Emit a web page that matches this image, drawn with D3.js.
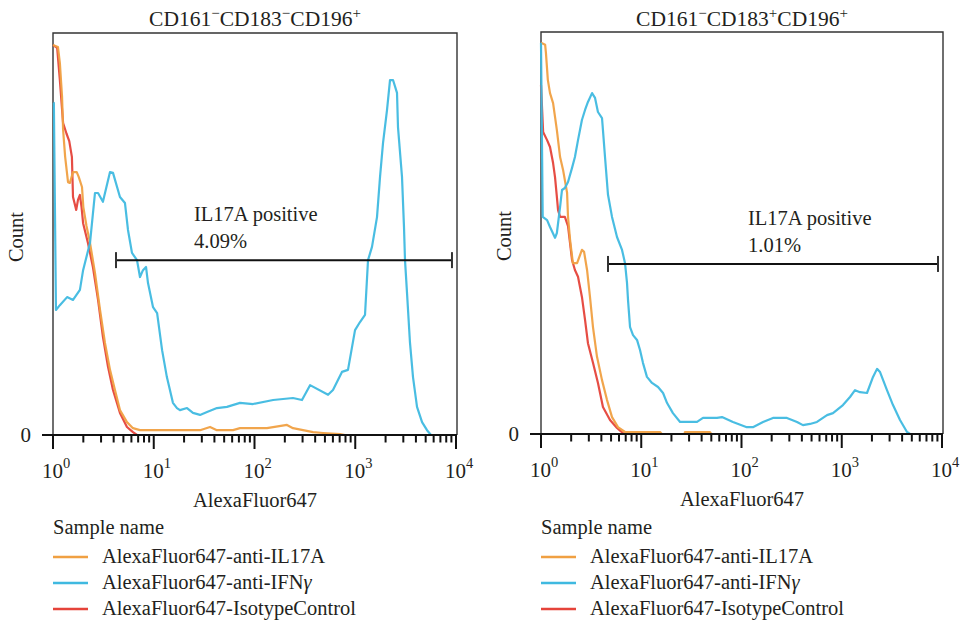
<!DOCTYPE html>
<html>
<head>
<meta charset="utf-8">
<script src="https://cdn.jsdelivr.net/npm/d3@7"></script>
<style>
  body { margin: 0; background: #fff; }
  svg { display: block; }
  text { font-family: "Liberation Serif", "Times New Roman", serif; fill: #231f20; }
</style>
</head>
<body>
<svg id="chart" width="960" height="623"></svg>
<script>
// ---- data -------------------------------------------------------------
const panelTitles = [
  [["CD161", "−"], ["CD183", "−"], ["CD196", "+"]],
  [["CD161", "−"], ["CD183", "+"], ["CD196", "+"]]
];
const xDomain = [1, 10000];
const xTickExponents = [0, 1, 2, 3, 4];
const yTickLabels = ["0"];
const xAxisLabel = "AlexaFluor647";
const yAxisLabel = "Count";
const legendTitle = "Sample name";
const seriesNames = ["AlexaFluor647-anti-IL17A", "AlexaFluor647-anti-IFN", "AlexaFluor647-IsotypeControl"];
const seriesColors = ["#f0a042", "#3fb9e0", "#e5433a"];
const gateLabel = "IL17A positive";
const gatePercents = ["4.09%", "1.01%"];
const gateRanges = [[4.22, 9120], [4.66, 9120]];
const gateLevels = [43.5, 42.3];

// [fluorescence intensity, count] — panel 1
const p1IL17A = [[1.0,97.0],[1.12,96.5],[1.17,92.5],[1.23,84.1],[1.26,75.9],[1.32,69.2],[1.41,62.9],[1.47,62.7],[1.58,65.4],[1.72,65.4],[1.8,64.2],[1.94,61.7],[2.0,56.7],[2.15,52.0],[2.33,47.8],[2.61,40.3],[2.93,31.1],[3.28,22.9],[3.68,16.2],[4.12,11.2],[4.62,6.2],[5.42,3.2],[6.22,1.7],[7.3,1.2],[18.2,1.2],[28.8,1.2],[36.2,2.0],[42.4,1.2],[61.2,1.2],[71.8,1.7],[133,1.7],[210,2.5],[241,1.7],[381,0.7],[479,0.5],[706,0.2],[790,0],[10000,0]];
const p1IFNg = [[1.01,82.6],[1.02,82.6],[1.07,31.1],[1.17,32.3],[1.38,34.3],[1.58,33.6],[1.85,36.1],[1.99,41.0],[2.33,47.8],[2.61,60.2],[2.8,60.2],[3.13,58.0],[3.68,65.4],[3.94,65.2],[4.62,59.2],[5.18,57.7],[5.55,51.0],[6.08,45.3],[6.82,43.5],[7.3,39.3],[7.82,41.0],[8.38,41.8],[8.77,37.8],[9.84,31.8],[10.8,30.3],[12.1,21.1],[13.5,14.4],[15.5,8.0],[17.0,6.7],[18.2,6.2],[21.4,6.7],[24.5,5.5],[28.8,5.0],[33.8,5.7],[42.4,6.7],[53.3,7.0],[71.8,8.0],[96.7,7.7],[153,8.7],[241,9.2],[296,8.7],[356,12.4],[537,10.0],[601,11.2],[738,15.7],[847,16.2],[995,26.1],[1115,28.1],[1250,29.9],[1339,43.5],[1466,46.8],[1644,54.2],[1762,64.2],[1886,72.6],[2066,80.8],[2213,88.3],[2371,88.3],[2597,85.1],[2656,76.6],[2911,64.2],[3047,51.7],[3118,43.5],[3265,35.3],[3495,22.9],[3743,14.4],[4103,7.0],[4603,3.2],[5155,1.2],[5651,0],[10000,0]];
const p1Isotype = [[1.0,97.0],[1.1,96.3],[1.17,88.3],[1.23,81.0],[1.26,77.6],[1.36,75.0],[1.45,73.1],[1.54,69.2],[1.58,59.2],[1.7,56.0],[1.77,58.5],[1.85,59.7],[1.92,56.7],[1.99,52.7],[2.22,47.8],[2.49,41.8],[2.8,33.6],[3.13,24.4],[3.52,16.9],[3.94,11.2],[4.62,5.5],[5.42,2.0],[6.22,0.7],[6.82,0],[10000,0]];

// [fluorescence intensity, count] — panel 2
const p2IL17A = [[1.0,97.3],[1.1,96.8],[1.12,94.8],[1.17,88.1],[1.23,84.8],[1.32,82.3],[1.44,75.6],[1.55,68.9],[1.66,65.7],[1.82,60.0],[1.86,54.0],[1.95,48.3],[2.08,42.5],[2.29,42.5],[2.56,45.8],[2.69,45.3],[2.88,40.8],[3.08,34.1],[3.3,26.6],[3.62,19.2],[4.06,13.4],[4.55,8.5],[5.11,4.2],[5.86,1.7],[6.89,0.5],[15.4,0.5],[16,0],[27,0],[27.3,0.5],[48.5,0.5],[50,0],[10000,0]];
const p2IFNg = [[1.0,97.3],[1.04,54.0],[1.15,53.2],[1.23,51.5],[1.38,48.8],[1.44,50.0],[1.55,56.5],[1.62,60.7],[1.73,61.2],[1.86,62.7],[2.04,66.2],[2.18,68.9],[2.34,73.1],[2.56,78.1],[2.75,80.6],[2.94,82.6],[3.23,84.8],[3.46,83.6],[3.7,80.1],[4.06,78.6],[4.15,75.6],[4.35,68.9],[4.66,59.5],[5.11,54.0],[5.73,49.0],[6.43,45.8],[6.89,42.5],[7.21,37.6],[7.38,33.3],[7.73,26.6],[8.28,24.6],[9.07,23.4],[9.72,20.9],[10.4,17.7],[11.4,14.2],[12.8,12.7],[14.7,11.7],[16.5,10.2],[18.1,7.7],[20.7,5.2],[24.4,3.0],[36.0,3.0],[41.3,4.0],[57.0,4.0],[63.9,4.2],[82.2,3.0],[113,1.7],[130,1.7],[164,3.0],[206,4.0],[284,4.0],[358,3.0],[410,2.2],[482,2.5],[566,3.0],[713,4.7],[818,5.2],[1028,7.2],[1209,9.2],[1356,10.9],[1521,10.4],[1786,10.2],[2051,14.2],[2249,16.2],[2410,15.4],[2826,10.9],[3245,7.2],[3811,3.5],[4477,0.5],[4797,0],[10000,0]];
const p2Isotype = [[1.0,86.8],[1.05,75.1],[1.15,73.1],[1.23,71.4],[1.32,67.4],[1.38,63.9],[1.44,59.0],[1.48,55.7],[1.55,54.0],[1.73,54.0],[1.86,51.7],[2.04,43.3],[2.18,40.8],[2.34,39.1],[2.56,34.1],[2.75,28.4],[2.94,22.6],[3.3,17.7],[3.7,12.7],[4.15,6.7],[4.88,3.5],[5.73,1.5],[6.58,0.2],[6.9,0],[10000,0]];

const panelSeries = [
  [p1IL17A, p1IFNg, p1Isotype],
  [p2IL17A, p2IFNg, p2Isotype]
];

// ---- layout -----------------------------------------------------------
const panels = [
  { left: 53, right: 456, top: 33, bottom: 435, cx: 255 },
  { left: 541, right: 942, top: 32, bottom: 434, cx: 742 }
];

const FONT = "20.5px";
const svg = d3.select("#chart");
const drawOrder = [2, 0, 1]; // isotype underneath, IFNγ on top

panels.forEach((p, i) => {
  const g = svg.append("g");
  const x = d3.scaleLog().domain(xDomain).range([p.left, p.right]);
  const y = d3.scaleLinear().domain([0, 100]).range([p.bottom, p.top]);

  // title with superscript markers
  const title = g.append("text")
    .attr("x", p.cx).attr("y", 26)
    .attr("text-anchor", "middle")
    .style("font-size", "21.5px");
  panelTitles[i].forEach(([base, sup], k) => {
    title.append("tspan").attr("dy", k === 0 ? 0 : 8).text(base);
    title.append("tspan").attr("dy", -8).style("font-size", "15px").text(sup);
  });

  // frame (top, left, right)
  g.append("path")
    .attr("d", `M${p.left},${p.bottom} V${p.top} H${p.right + 1} V${p.bottom}`)
    .attr("fill", "none").attr("stroke", "#333").attr("stroke-width", 1.4);

  // histogram lines
  const line = d3.line().x(d => x(d[0])).y(d => y(d[1]));
  drawOrder.forEach(s => {
    g.append("path")
      .datum(panelSeries[i][s])
      .attr("d", line)
      .attr("fill", "none")
      .attr("stroke", seriesColors[s])
      .attr("stroke-width", 2.2)
      .attr("stroke-linejoin", "round")
      .attr("opacity", 0.95);
  });

  // x axis with log ticks
  const ticks = x.ticks();
  g.selectAll(".tick").data(ticks).enter().append("line")
    .attr("x1", d => x(d)).attr("x2", d => x(d))
    .attr("y1", p.bottom)
    .attr("y2", d => Number.isInteger(Math.log10(d)) ? p.bottom + 14 : p.bottom + 7.5)
    .attr("stroke", "#111").attr("stroke-width", 2);
  // baseline extended left as the "0" tick
  g.append("line")
    .attr("x1", p.left - 11).attr("x2", p.right + 1)
    .attr("y1", y(0)).attr("y2", y(0))
    .attr("stroke", "#111").attr("stroke-width", 2.2);
  g.append("text")
    .attr("x", p.left - 22).attr("y", y(0) + 7)
    .attr("text-anchor", "end")
    .style("font-size", "21px")
    .text(yTickLabels[0]);

  xTickExponents.forEach(k => {
    const t = g.append("text")
      .attr("x", x(Math.pow(10, k)) + 3).attr("y", p.bottom + 43)
      .attr("text-anchor", "middle")
      .style("font-size", "21px");
    t.append("tspan").text("10");
    t.append("tspan").attr("dy", -10).style("font-size", "14.5px").text(String(k));
  });

  // axis titles
  g.append("text")
    .attr("x", p.cx).attr("y", p.bottom + 72)
    .attr("text-anchor", "middle")
    .style("font-size", FONT)
    .text(xAxisLabel);
  g.append("text")
    .attr("transform", `translate(${p.left - 30},${(p.top + p.bottom) / 2 + 3}) rotate(-90)`)
    .attr("text-anchor", "middle")
    .style("font-size", FONT)
    .text(yAxisLabel);

  // gate marker
  const [g0, g1] = gateRanges[i];
  const gy = y(gateLevels[i]);
  g.append("line").attr("x1", x(g0)).attr("x2", x(g1)).attr("y1", gy).attr("y2", gy)
    .attr("stroke", "#111").attr("stroke-width", 2);
  [g0, g1].forEach(v => {
    g.append("line").attr("x1", x(v)).attr("x2", x(v)).attr("y1", gy - 8).attr("y2", gy + 8)
      .attr("stroke", "#333").attr("stroke-width", 2);
  });
  const tx = i === 0 ? 194 : 748;
  g.append("text").attr("x", tx).attr("y", gy - 39)
    .style("font-size", FONT).text(gateLabel);
  g.append("text").attr("x", tx).attr("y", gy - 12)
    .style("font-size", FONT).text(gatePercents[i]);

  // legend
  const lg = g.append("g");
  lg.append("text").attr("x", p.left).attr("y", 534)
    .style("font-size", FONT).text(legendTitle);
  seriesNames.forEach((name, s) => {
    const ly = 557 + s * 26;
    lg.append("line")
      .attr("x1", p.left).attr("x2", p.left + 35)
      .attr("y1", ly).attr("y2", ly)
      .attr("stroke", seriesColors[s]).attr("stroke-width", 2.5);
    const t = lg.append("text").attr("x", p.left + 49).attr("y", ly + 6)
      .style("font-size", FONT).text(name);
    if (s === 1) t.append("tspan").style("font-style", "italic").text("γ");
  });
});
</script>
</body>
</html>
